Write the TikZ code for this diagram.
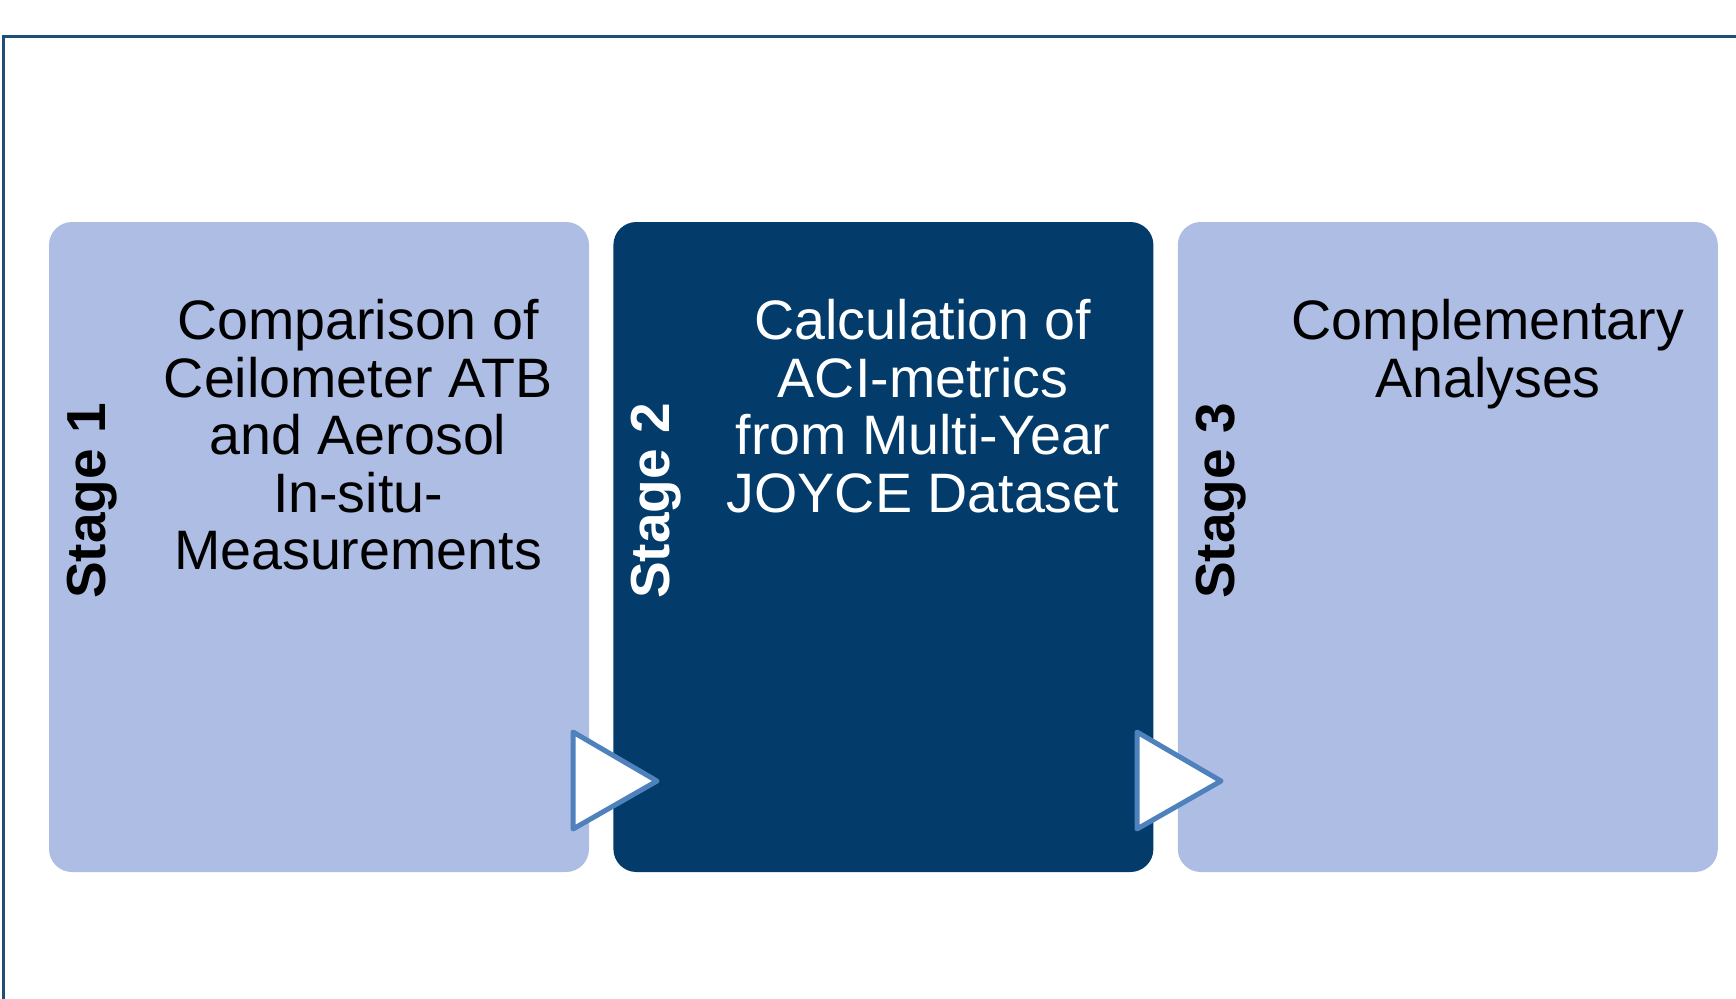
\documentclass[tikz,border=0pt]{standalone}
\usepackage{fontspec}
\setmainfont{Liberation Sans}
\usepackage{xcolor}
\usetikzlibrary{positioning}
\definecolor{stagelight}{HTML}{AEBDE4}
\definecolor{stagedark}{HTML}{033B6A}
\definecolor{framecol}{HTML}{1F4E79}
\definecolor{arrowcol}{HTML}{4F81BD}
\tikzset{
  stagebox/.style={rounded corners=23pt, minimum width=540pt, minimum height=650pt, inner sep=0pt},
  stagelabel/.style={rotate=90, inner sep=0pt, font=\fontsize{55}{60}\selectfont\bfseries},
  stagetext/.style={anchor=north, align=center, inner sep=0pt, font=\fontsize{55.6}{57.6}\selectfont},
  nextarrow/.style={fill=white, draw=arrowcol, line width=5pt, line join=round}
}
\begin{document}
\begin{tikzpicture}[x=1pt,y=-1pt]
      \useasboundingbox (0,0) rectangle (1736,998);
      \draw[framecol, line width=3pt] (3,1010) -- (3,37) -- (1750,37);
      % the three stages
      \node[stagebox, fill=stagelight] (s1) at (319,547) {};
      \node[stagebox, fill=stagedark, right=24pt of s1] (s2) {};
      \node[stagebox, fill=stagelight, right=24pt of s2] (s3) {};
      \node[stagelabel] (l1) at (92,501) {Stage 1};
      \node[stagelabel, white] (l2) at (656,501) {Stage 2};
      \node[stagelabel] (l3) at (1221,501) {Stage 3};
      \node[stagetext] (t1) at (358,299) {Comparison of\\Ceilometer ATB\\and Aerosol\\In-situ-\\Measurements};
      \node[stagetext, white] (t2) at (923,299) {Calculation of\\ACI-metrics\\from Multi-Year\\JOYCE Dataset};
      \node[stagetext] (t3) at (1488,299) {Complementary\\Analyses};
      % arrows between stages
      \foreach \x in {573,1137}
        {
          \draw[nextarrow] (\x,732) -- (\x+84,781) -- (\x,829) -- cycle;
        }
    \end{tikzpicture}
\end{document}
